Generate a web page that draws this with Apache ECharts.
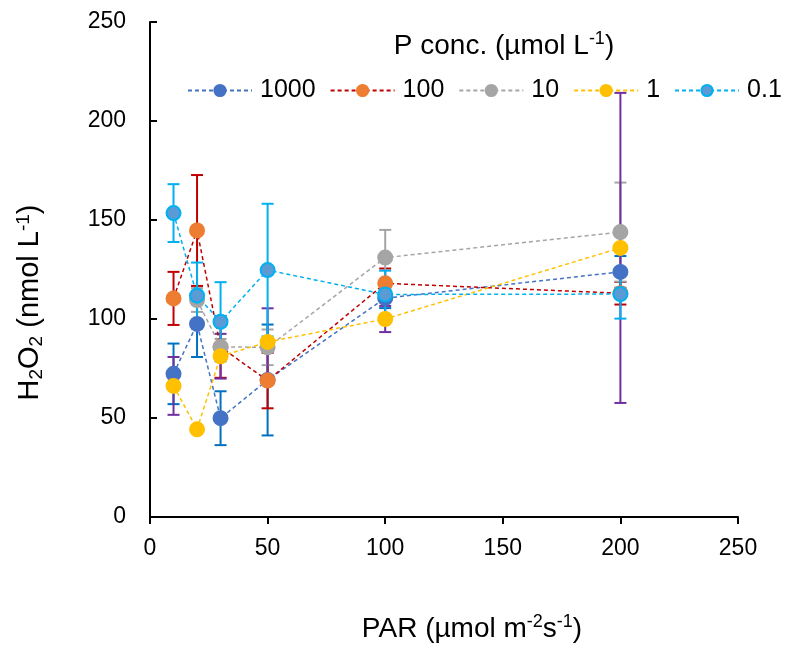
<!DOCTYPE html>
<html>
<head>
<meta charset="utf-8">
<script src="https://cdn.jsdelivr.net/npm/echarts@6/dist/echarts.min.js"></script>
<style>
  html, body { margin: 0; padding: 0; background: #fff; }
  #chart { width: 788px; height: 650px; }
</style>
</head>
<body>
<div id="chart"></div>
<script>
// PAR levels (x) and H2O2 means / error half-widths per P concentration
const parX = [10, 20, 30, 50, 100, 200];

const p1000 = [72.3, 97.5, 49.9, 69.2, 110.5, 123.8];
const p1000Err = [15.3, 16.7, 13.6, 28, 5, 8];

const p100 = [110.4, 144.7, 85.8, 68.9, 118.0, 113.0];
const p100Err = [13.4, 28, 15.5, 14, 7.5, 5.7];

const p10 = [null, 109.6, 85.9, 85.7, 131.0, 143.9];
const p10Err = [null, 6, 4, 9, 14, 25];

const p1 = [66.2, 44.3, 81.2, 88.4, 100.0, 135.9];
const p1Err = [14.6, 1.5, 11.3, 17, 6.6, 78.3];

const p01 = [153.5, 111.8, 98.6, 124.7, 112.4, 112.6];
const p01Err = [14.6, 16.7, 20, 33.5, 12, 12.4];

const xTicks = { min: 0, max: 250, interval: 50 };
const yTicks = { min: 0, max: 250, interval: 50 };

const font = "'Liberation Sans', Arial, sans-serif";

function pts(vals) {
  return parX.map((x, i) => [x, vals[i]]).filter((d) => d[1] != null);
}

function bars(vals, errs) {
  return parX
    .map((x, i) => (vals[i] == null ? null : [x, vals[i] - errs[i], vals[i] + errs[i]]))
    .filter((d) => d != null);
}

function errorBarRender(color) {
  return function (params, api) {
    const x = api.value(0);
    const lo = api.coord([x, api.value(1)]);
    const hi = api.coord([x, api.value(2)]);
    const hw = 6;
    const style = { stroke: color, lineWidth: 2, fill: null };
    return {
      type: "group",
      children: [
        { type: "line", shape: { x1: lo[0], y1: lo[1], x2: hi[0], y2: hi[1] }, style: style },
        { type: "line", shape: { x1: lo[0] - hw, y1: lo[1], x2: lo[0] + hw, y2: lo[1] }, style: style },
        { type: "line", shape: { x1: hi[0] - hw, y1: hi[1], x2: hi[0] + hw, y2: hi[1] }, style: style },
      ],
    };
  };
}

const groups = [
  { name: "1000", vals: p1000, errs: p1000Err, line: "#4472C4", marker: "#4472C4", border: "#4472C4", bar: "#0070C0" },
  { name: "100", vals: p100, errs: p100Err, line: "#C00000", marker: "#ED7D31", border: "#ED7D31", bar: "#C00000" },
  { name: "10", vals: p10, errs: p10Err, line: "#A5A5A5", marker: "#A5A5A5", border: "#A5A5A5", bar: "#A5A5A5" },
  { name: "1", vals: p1, errs: p1Err, line: "#FFC000", marker: "#FFC000", border: "#FFC000", bar: "#7030A0" },
  { name: "0.1", vals: p01, errs: p01Err, line: "#00B0F0", marker: "#5B9BD5", border: "#00B0F0", bar: "#00B0F0" },
];

const series = [];
groups.forEach((g) => {
  series.push({
    name: g.name + " err",
    type: "custom",
    renderItem: errorBarRender(g.bar),
    data: bars(g.vals, g.errs),
    encode: { x: 0, y: [1, 2] },
    z: 2,
    silent: true,
  });
});
groups.forEach((g) => {
  series.push({
    name: g.name,
    type: "line",
    data: pts(g.vals),
    symbol: "circle",
    symbolSize: 14,
    lineStyle: { color: g.line, width: 1.5, type: [4, 3] },
    itemStyle: { color: g.marker, borderColor: g.border, borderWidth: 2 },
    z: 5,
  });
});

const supStyle = (size) => ({ fontSize: size, lineHeight: size, verticalAlign: "top", fontFamily: font, color: "#000" });
const subStyle = (size) => ({ fontSize: size, lineHeight: size, verticalAlign: "bottom", fontFamily: font, color: "#000" });

const chart = echarts.init(document.getElementById("chart"));
chart.setOption({
  animation: false,
  textStyle: { fontFamily: font },
  grid: { left: 150, right: 50, top: 22, bottom: 130 },
  title: {
    text: "P conc. (µmol L{sup|-1})",
    left: 499,
    top: 25,
    textAlign: "center",
    textStyle: {
      fontFamily: font,
      fontSize: 28,
      fontWeight: "normal",
      color: "#000",
      lineHeight: 32,
      rich: { sup: supStyle(18) },
    },
  },
  legend: {
    data: groups.map((g) => g.name),
    left: 187,
    top: 78,
    width: 700,
    padding: 0,
    itemWidth: 64,
    itemHeight: 14,
    itemGap: 14,
    selectedMode: false,
    textStyle: { fontFamily: font, fontSize: 25, color: "#000", padding: [0, 0, 0, 3] },
  },
  xAxis: {
    type: "value",
    min: xTicks.min,
    max: xTicks.max,
    interval: xTicks.interval,
    splitLine: { show: false },
    axisLine: { lineStyle: { color: "#000", width: 2 } },
    axisTick: { inside: false, length: 7, lineStyle: { color: "#000", width: 2 } },
    axisLabel: { fontFamily: font, fontSize: 23, color: "#000", margin: 20 },
    name: "PAR (µmol m{sup|-2}s{sup|-1})",
    nameLocation: "middle",
    nameGap: 96,
    nameTextStyle: {
      fontFamily: font,
      fontSize: 28,
      color: "#000",
      lineHeight: 32,
      padding: [0, 0, 0, 56],
      rich: { sup: supStyle(18) },
    },
  },
  yAxis: {
    type: "value",
    min: yTicks.min,
    max: yTicks.max,
    interval: yTicks.interval,
    splitLine: { show: false },
    axisLine: { show: true, lineStyle: { color: "#000", width: 2 } },
    axisTick: { show: true, inside: true, length: 7, lineStyle: { color: "#000", width: 2 } },
    axisLabel: { fontFamily: font, fontSize: 23, color: "#000", margin: 24 },
    name: "H{sub|2}O{sub|2} (nmol L{sup|-1})",
    nameLocation: "middle",
    nameRotate: 90,
    nameGap: 104,
    nameTextStyle: {
      fontFamily: font,
      fontSize: 29,
      color: "#000",
      lineHeight: 32,
      padding: [0, 66, 0, 0],
      rich: { sup: supStyle(19), sub: subStyle(19) },
    },
  },
  series: series,
});
</script>
</body>
</html>
